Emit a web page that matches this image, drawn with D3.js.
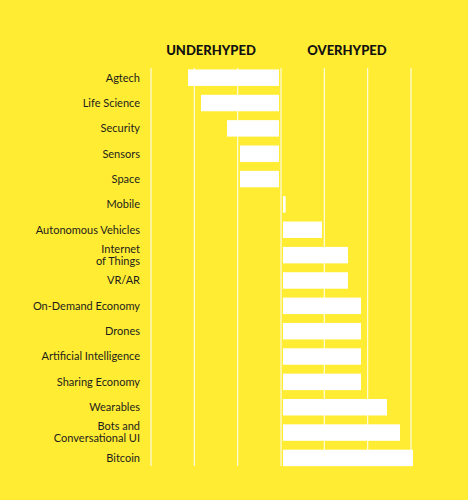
<!DOCTYPE html>
<html>

<head>
    <title>hype</title>
    <script src="https://d3js.org/d3.v7.min.js"></script>
    <style>
        body { margin: 0; background: #FFEC33; }
    </style>
</head>

<body>
    <svg width="468" height="500" id="mainsvg"></svg>
    <script>
        // data
        const categories = ['Agtech', 'Life Science', 'Security', 'Sensors', 'Space', 'Mobile',
            'Autonomous Vehicles', 'Internet\nof Things', 'VR/AR', 'On-Demand Economy', 'Drones',
            'Artificial Intelligence', 'Sharing Economy', 'Wearables', 'Bots and\nConversational UI', 'Bitcoin'];
        // negative = underhyped, positive = overhyped
        const hype = [-7, -6, -4, -3, -3, 0.2, 3, 5, 5, 6, 6, 6, 6, 8, 9, 10];
        const gridTicks = [-10, -6.67, -3.33, 0, 3.33, 6.67, 10];
        const headers = ['UNDERHYPED', 'OVERHYPED'];

        let svg = d3.select('#mainsvg');
        const width = +svg.attr('width'), height = +svg.attr('height');

        svg.append('rect').attr('width', width).attr('height', height).attr('fill', '#FFEC33');

        const x = d3.scaleLinear().domain([-10, 10]).range([151, 411]);
        const y = d3.scaleBand()
            .domain(categories)
            .range([65, 470.6])
            .paddingInner(0.35)
            .paddingOuter(0.175);

        const g = svg.append('g');

        // gridlines
        g.selectAll('.grid').data(gridTicks)
            .enter().append('line')
            .attr('class', 'grid')
            .attr('x1', d => x(d)).attr('x2', d => x(d))
            .attr('y1', 68).attr('y2', 466)
            .attr('stroke', 'white')
            .attr('stroke-width', 1);

        // bars, 2px gap either side of the zero line
        const data = categories.map((c, i) => ({ name: c, v: hype[i] }));
        g.selectAll('.bar').data(data)
            .enter().append('rect')
            .attr('class', 'bar')
            .attr('x', d => d.v < 0 ? x(d.v) - 2 : x(0) + 2)
            .attr('y', d => y(d.name))
            .attr('width', d => Math.abs(x(d.v) - x(0)))
            .attr('height', y.bandwidth())
            .attr('fill', 'white');

        // category labels
        const labels = g.selectAll('.label').data(data)
            .enter().append('text')
            .attr('class', 'label')
            .attr('text-anchor', 'end')
            .attr('font-family', 'Lato, sans-serif')
            .attr('font-size', 11)
            .attr('fill', '#1d1d1b')
            .attr('transform', d => `translate(140,${y(d.name) + y.bandwidth() / 2})`);
        labels.each(function (d) {
            const lines = d.name.split('\n');
            const t = d3.select(this);
            lines.forEach((l, k) => {
                t.append('tspan')
                    .attr('x', 0)
                    .attr('y', (k - (lines.length - 1) / 2) * 12)
                    .attr('dy', '0.35em')
                    .text(l);
            });
        });

        // headers
        svg.selectAll('.head').data(headers)
            .enter().append('text')
            .attr('class', 'head')
            .attr('x', (d, i) => i == 0 ? 211 : 347)
            .attr('y', 50)
            .attr('dy', '0.35em')
            .attr('text-anchor', 'middle')
            .attr('font-family', 'Lato, sans-serif')
            .attr('font-weight', 900)
            .attr('font-size', 13)
            .attr('fill', '#111')
            .text(d => d);
    </script>
</body>

</html>
